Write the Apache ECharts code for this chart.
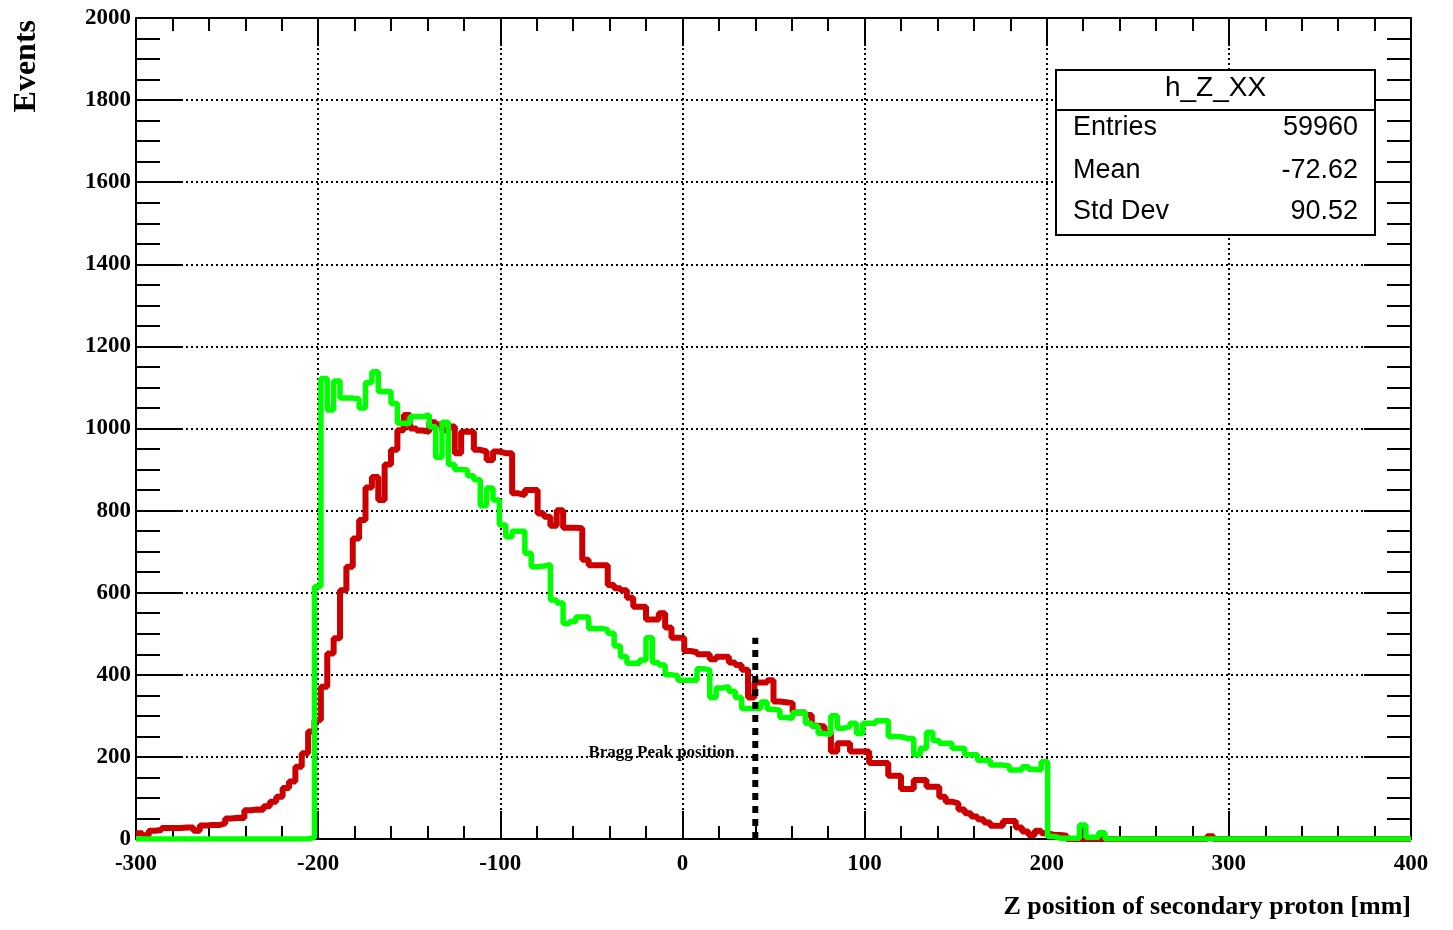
<!DOCTYPE html>
<html>
<head>
<meta charset="utf-8">
<title>h_Z_XX</title>
<script src="https://cdn.jsdelivr.net/npm/echarts@6/dist/echarts.min.js"></script>
<style>
  html, body { margin: 0; padding: 0; background: #fff; }
  #chart { width: 1453px; height: 930px; }
</style>
</head>
<body>
<div id="chart"></div>
<script>
// 200 bins of 3.5 mm from -300 to 400 mm
var binStart = -300;
var binWidth = 3.5;

var redCounts = [
  14, 9, 20, 22, 27, 27, 27, 28, 28, 20,
  33, 34, 34, 38, 50, 52, 51, 70, 72, 71,
  80, 91, 103, 124, 140, 176, 209, 262, 290, 371,
  452, 489, 606, 663, 732, 777, 856, 882, 826, 912,
  948, 996, 1033, 1000, 995, 992, 1015, 1010, 995, 1005,
  940, 992, 992, 948, 944, 923, 944, 940, 940, 842,
  838, 850, 850, 793, 785, 763, 801, 758, 758, 757,
  680, 667, 667, 667, 619, 611, 606, 588, 566, 566,
  535, 535, 550, 515, 490, 490, 458, 455, 450, 450,
  438, 444, 444, 430, 424, 412, 345, 381, 381, 387,
  335, 333, 331, 308, 308, 302, 276, 274, 258, 213,
  233, 233, 213, 213, 213, 185, 185, 185, 154, 154,
  122, 122, 144, 144, 127, 127, 103, 91, 87, 72,
  63, 55, 48, 40, 32, 32, 44, 44, 28, 18,
  10, 20, 14, 10, 10, 8, 0, 0, 0, 0,
  0, 0, 0, 0, 0, 0, 0, 0, 0, 0,
  0, 0, 0, 0, 0, 0, 0, 0, 7, 0,
  0, 0, 0, 0, 0, 0, 0, 0, 0, 0,
  0, 0, 0, 0, 0, 0, 0, 0, 0, 0,
  0, 0, 0, 0, 0, 0, 0, 0, 0, 0
];

var greenCounts = [
  0, 0, 0, 0, 0, 0, 0, 0, 0, 0,
  0, 0, 0, 0, 0, 0, 0, 0, 0, 0,
  0, 0, 0, 0, 0, 0, 0, 4, 615, 1122,
  1045, 1116, 1074, 1074, 1072, 1050, 1112, 1138, 1090, 1090,
  1061, 1013, 1013, 1029, 1029, 1033, 1004, 930, 1015, 912,
  900, 899, 885, 875, 812, 855, 826, 765, 736, 750,
  750, 696, 663, 665, 668, 582, 575, 525, 530, 541,
  541, 513, 513, 510, 501, 470, 444, 428, 428, 436,
  490, 430, 424, 400, 398, 387, 387, 387, 415, 412,
  345, 368, 371, 360, 345, 318, 318, 318, 334, 316,
  314, 296, 294, 308, 308, 282, 275, 257, 255, 300,
  270, 274, 282, 257, 282, 282, 288, 288, 250, 249,
  245, 245, 205, 221, 260, 240, 233, 233, 221, 221,
  205, 205, 192, 192, 180, 180, 178, 168, 168, 176,
  170, 168, 188, 6, 2, 2, 2, 2, 34, 4,
  4, 15, 0, 0, 0, 0, 0, 0, 0, 0,
  0, 0, 0, 0, 0, 0, 0, 0, 0, 0,
  0, 0, 0, 0, 0, 0, 0, 0, 0, 0,
  0, 0, 0, 0, 0, 0, 0, 0, 0, 0,
  0, 0, 0, 0, 0, 0, 0, 0, 0, 0
];

var braggZ = 40;
var braggTop = 490;
var braggLabelY = 210;

var statTitle = "h_Z_XX";
var statNames = ["Entries", "Mean", "Std Dev"];
var statValues = ["59960", "-72.62", "90.52"];

var serif = "Liberation Serif";
var sans = "Liberation Sans";

// left bin edges + closing point, drawn as step line
function toSteps(counts) {
  var pts = [];
  for (var i = 0; i < counts.length; i++) {
    pts.push([binStart + i * binWidth, counts[i]]);
  }
  pts.push([binStart + counts.length * binWidth, counts[counts.length - 1]]);
  return pts;
}

var frame = { show: true, onZero: false, lineStyle: { color: "#000", width: 2 } };
var dotted = { show: true, lineStyle: { color: "#000", width: 2, type: [2, 3] } };
var tickLbl = {
  color: "#000", fontFamily: serif, fontWeight: "bold", fontSize: 23,
  formatter: function (v) { return String(v); }
};

function xAx(pos, labels) {
  return {
    type: "value", position: pos, min: -300, max: 400, interval: 100,
    axisLine: frame,
    axisTick: { show: true, inside: true, length: 28, lineStyle: { color: "#000", width: 2 } },
    minorTick: { show: true, splitNumber: 5, length: 13, lineStyle: { color: "#000", width: 2 } },
    splitLine: labels ? dotted : { show: false },
    axisLabel: labels ? Object.assign({ margin: 14, showMinLabel: true, showMaxLabel: true }, tickLbl) : { show: false }
  };
}
function yAx(pos, labels) {
  return {
    type: "value", position: pos, min: 0, max: 2000, interval: 200,
    axisLine: frame,
    axisTick: { show: true, inside: true, length: 47, lineStyle: { color: "#000", width: 2 } },
    minorTick: { show: true, splitNumber: 4, length: 24, lineStyle: { color: "#000", width: 2 } },
    splitLine: labels ? dotted : { show: false },
    axisLabel: labels ? Object.assign({ margin: 5 }, tickLbl) : { show: false }
  };
}

var boxX = 1056, boxY = 70, boxW = 319, boxH = 165;
var statFont = "27px " + sans;
var statEls = [
  { type: "rect", z: 100, shape: { x: boxX, y: boxY, width: boxW, height: boxH },
    style: { fill: "#fff", stroke: "#000", lineWidth: 2 } },
  { type: "line", z: 101, shape: { x1: boxX, y1: 110, x2: boxX + boxW, y2: 110 },
    style: { stroke: "#000", lineWidth: 2 } },
  { type: "text", z: 101, x: boxX + boxW / 2, y: 88,
    style: { text: statTitle, font: "28px " + sans, fill: "#000", textAlign: "center", textVerticalAlign: "middle" } }
];
var rowY = [128, 171, 212];
for (var i = 0; i < statNames.length; i++) {
  statEls.push({ type: "text", z: 101, x: 1073, y: rowY[i],
    style: { text: statNames[i], font: statFont, fill: "#000", textAlign: "left", textVerticalAlign: "middle" } });
  statEls.push({ type: "text", z: 101, x: 1358, y: rowY[i],
    style: { text: statValues[i], font: statFont, fill: "#000", textAlign: "right", textVerticalAlign: "middle" } });
}

var chart = echarts.init(document.getElementById("chart"));
chart.setOption({
  animation: false,
  backgroundColor: "#fff",
  grid: { left: 136, right: 42, top: 18, bottom: 91, containLabel: false, outerBoundsMode: "none" },
  xAxis: [xAx("bottom", true), xAx("top", false)],
  yAxis: [yAx("left", true), yAx("right", false)],
  series: [
    {
      name: "red", type: "line", step: "end", data: toSteps(redCounts),
      symbol: "none", silent: true, z: 3,
      lineStyle: { color: "#cc0000", width: 6 }
    },
    {
      name: "green", type: "line", step: "end", data: toSteps(greenCounts),
      symbol: "none", silent: true, z: 4,
      lineStyle: { color: "#00ff00", width: 5.5 }
    },
    {
      name: "bragg", type: "line", data: [[braggZ, 0], [braggZ, braggTop]],
      symbol: "none", silent: true, z: 5,
      lineStyle: { color: "#000", width: 6, type: [7, 6] },
      markPoint: {
        symbol: "circle", symbolSize: 1, silent: true,
        itemStyle: { color: "rgba(0,0,0,0)" },
        label: {
          show: true, position: "left", distance: 20,
          formatter: "Bragg Peak position",
          color: "#000", fontFamily: serif, fontWeight: "bold", fontSize: 17
        },
        data: [{ coord: [braggZ, braggLabelY] }]
      }
    }
  ],
  graphic: [
    { type: "text", x: 27, y: 20, rotation: Math.PI / 2, z: 100,
      style: { text: "Events", font: "bold 32px " + serif, fill: "#000", textAlign: "right", textVerticalAlign: "middle" } },
    { type: "text", x: 1411, y: 907, z: 100,
      style: { text: "Z position of secondary proton [mm]", font: "bold 26px " + serif, fill: "#000", textAlign: "right", textVerticalAlign: "middle" } },
    { type: "group", z: 100, children: statEls }
  ]
});
</script>
</body>
</html>
